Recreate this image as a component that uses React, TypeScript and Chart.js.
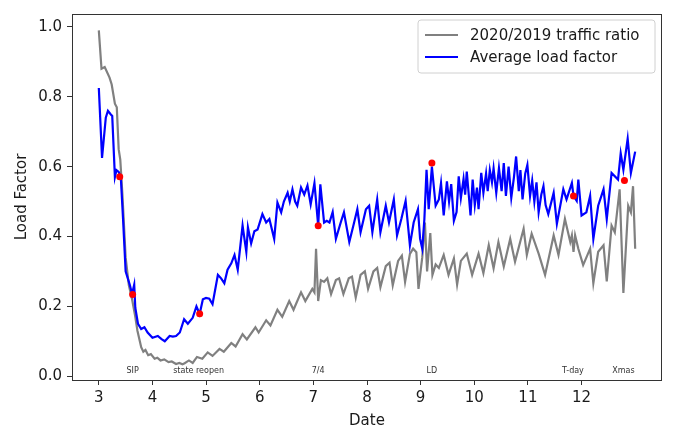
import React, { useEffect, useRef } from "react";
import { Chart, registerables } from "chart.js";

Chart.register(...registerables);

// 2020/2019 traffic ratio (x = month + fraction of month)
const ratioX = [
  3.0, 3.05, 3.11, 3.2, 3.24, 3.3, 3.335, 3.37, 3.4, 3.44, 3.5, 3.56, 3.62, 3.68, 3.72, 3.79, 3.83, 3.87, 3.92, 3.97,
  4.04, 4.09, 4.15, 4.22, 4.3, 4.36, 4.44, 4.5, 4.56, 4.6, 4.68, 4.75, 4.83, 4.93, 5.03, 5.12, 5.25, 5.33, 5.47, 5.55,
  5.68, 5.76, 5.92, 5.98, 6.12, 6.2, 6.33, 6.42, 6.55, 6.63, 6.77, 6.85, 6.98, 7.02, 7.05, 7.09,
  7.14, 7.2, 7.26, 7.33, 7.42, 7.48, 7.56, 7.66, 7.72, 7.79, 7.88, 7.96, 8.02, 8.12, 8.19, 8.25, 8.35, 8.42, 8.48,
  8.58, 8.65, 8.71, 8.8, 8.86, 8.92, 8.96, 9.03, 9.08, 9.12, 9.18, 9.22, 9.28, 9.34,
  9.43, 9.52, 9.62, 9.68, 9.75, 9.86, 9.96, 10.08, 10.17, 10.27, 10.36, 10.45,
  10.55, 10.67, 10.76, 10.92, 10.98, 11.07, 11.2, 11.32, 11.48, 11.57, 11.69, 11.79, 11.82, 11.85, 11.88,
  11.94, 12.03, 12.16, 12.22, 12.31, 12.41, 12.47, 12.56, 12.62, 12.71, 12.78, 12.87, 12.92, 12.96, 13.0,
];
const ratioY = [
  0.99, 0.88, 0.885, 0.855, 0.835, 0.78, 0.77, 0.65, 0.62, 0.52, 0.34, 0.26, 0.22, 0.17, 0.13, 0.083, 0.07, 0.075, 0.06, 0.063,
  0.05, 0.053, 0.045, 0.048, 0.04, 0.042, 0.035, 0.038, 0.034, 0.037, 0.045, 0.038, 0.055, 0.05, 0.068, 0.058, 0.078, 0.07, 0.095, 0.085,
  0.12, 0.105, 0.14, 0.125, 0.16, 0.145, 0.19, 0.17, 0.215, 0.19, 0.24, 0.215, 0.25, 0.24, 0.365, 0.215,
  0.275, 0.27, 0.28, 0.235, 0.275, 0.28, 0.235, 0.28, 0.285, 0.225, 0.29, 0.3, 0.25, 0.3, 0.31, 0.255, 0.315, 0.325, 0.26,
  0.33, 0.345, 0.27, 0.35, 0.365, 0.355, 0.25, 0.34, 0.44, 0.3, 0.41, 0.29, 0.32, 0.31,
  0.347, 0.29, 0.337, 0.262, 0.33, 0.351, 0.29, 0.351, 0.295, 0.375, 0.309, 0.384,
  0.314, 0.393, 0.328, 0.422, 0.347, 0.408, 0.351, 0.29, 0.403, 0.347, 0.45, 0.384, 0.403, 0.356, 0.403,
  0.365, 0.318, 0.365, 0.266, 0.356, 0.375, 0.271, 0.431, 0.412, 0.535, 0.238, 0.488, 0.469, 0.544, 0.365,
];

// Average load factor
const loadX = [
  3.0, 3.06, 3.13, 3.17, 3.22, 3.25, 3.3, 3.33, 3.37, 3.41, 3.45, 3.5, 3.58, 3.62, 3.66, 3.68, 3.73, 3.79, 3.85,
  3.91, 4.0, 4.1, 4.17, 4.23, 4.32, 4.38, 4.44, 4.51, 4.59, 4.66, 4.75, 4.82, 4.88, 4.94, 5.0, 5.06, 5.12,
  5.22, 5.28, 5.34, 5.4, 5.47, 5.53, 5.59, 5.68, 5.75, 5.78, 5.84, 5.9, 5.96, 6.05, 6.12, 6.18, 6.27, 6.33,
  6.4, 6.45, 6.52, 6.56, 6.61, 6.66, 6.7, 6.77, 6.83, 6.89, 6.95, 7.02, 7.09, 7.13, 7.2, 7.25, 7.3, 7.36,
  7.42, 7.51, 7.57, 7.67, 7.76, 7.82, 7.88, 7.98, 8.04, 8.1, 8.19, 8.25, 8.35, 8.41, 8.5, 8.56, 8.64, 8.72,
  8.8, 8.87, 8.95, 8.99, 9.03, 9.07, 9.11, 9.15, 9.21, 9.28,
  9.34, 9.38, 9.43, 9.49, 9.53, 9.57, 9.62, 9.67, 9.71, 9.75, 9.8, 9.83, 9.86, 9.93, 9.97, 10.01, 10.05, 10.08,
  10.13, 10.17, 10.22, 10.25, 10.29, 10.33, 10.36, 10.41, 10.46, 10.51, 10.55, 10.59, 10.64, 10.69, 10.74,
  10.78, 10.83, 10.86, 10.9, 10.95, 10.99, 11.04, 11.08, 11.12, 11.16, 11.2, 11.25, 11.29, 11.33,
  11.38, 11.48, 11.54, 11.66, 11.72, 11.82, 11.85, 11.91, 11.94, 12.0,
  12.09, 12.16, 12.22, 12.31, 12.41, 12.47, 12.56, 12.68, 12.73, 12.78, 12.86, 12.92, 13.0,
];
const loadY = [
  0.825, 0.625, 0.74, 0.76, 0.75, 0.745, 0.57, 0.59, 0.585, 0.57, 0.455, 0.3, 0.26, 0.235, 0.262, 0.196, 0.15, 0.135, 0.14,
  0.125, 0.11, 0.115, 0.106, 0.1, 0.115, 0.113, 0.115, 0.125, 0.163, 0.15, 0.167, 0.2, 0.178, 0.22, 0.224, 0.222, 0.206,
  0.29, 0.28, 0.266, 0.305, 0.323, 0.347, 0.305, 0.431, 0.356, 0.426, 0.38, 0.415, 0.42, 0.464, 0.44, 0.45, 0.393, 0.497,
  0.469, 0.5, 0.525, 0.5, 0.535, 0.5, 0.488, 0.54, 0.52, 0.546, 0.492, 0.553, 0.431, 0.549, 0.44, 0.445, 0.44, 0.47,
  0.393, 0.44, 0.469, 0.384, 0.44, 0.478, 0.412, 0.478, 0.488, 0.412, 0.506, 0.412, 0.488, 0.44, 0.506, 0.403, 0.45, 0.502,
  0.375, 0.44, 0.478, 0.393, 0.365, 0.45, 0.591, 0.478, 0.6, 0.488,
  0.506, 0.553, 0.46, 0.558, 0.5, 0.55, 0.445, 0.47, 0.572, 0.51, 0.565, 0.52, 0.586, 0.46, 0.563, 0.49, 0.54, 0.478,
  0.582, 0.525, 0.58, 0.53, 0.59, 0.555, 0.595, 0.525, 0.596, 0.53, 0.61, 0.516, 0.6, 0.511, 0.57,
  0.629, 0.53, 0.59, 0.506, 0.58, 0.605, 0.516, 0.56, 0.5, 0.555, 0.469, 0.52, 0.544, 0.49,
  0.464, 0.525, 0.436, 0.535, 0.506, 0.553, 0.516, 0.502, 0.563, 0.46,
  0.469, 0.516, 0.393, 0.488, 0.535, 0.45, 0.582, 0.563, 0.638, 0.591, 0.68, 0.582, 0.643,
];

// Marked events
const eventX = [3.39, 3.63, 4.88, 7.09, 9.21, 11.85, 12.8];
const eventY = [0.571, 0.234, 0.179, 0.431, 0.61, 0.516, 0.56];
const eventLabels = ["SIP", "state reopen", "7/4", "LD", "T-day", "Xmas"];
const eventLabelX = [3.63, 4.86, 7.09, 9.21, 11.84, 12.78];
const eventLabelY = 0.014;

const xTicks = [3, 4, 5, 6, 7, 8, 9, 10, 11, 12];
const yTicks = [0, 0.2, 0.4, 0.6, 0.8, 1.0];
const seriesNames = ["2020/2019 traffic ratio", "Average load factor"];
const seriesColors = ["#808080", "#0000ff"];

const FONT = "'DejaVu Sans', sans-serif";
const TEXT = "#1a1a1a";
const AXIS = "#333333";

const decorPlugin = {
  id: "decor",
  afterDatasetsDraw(chart: any) {
    const { ctx, chartArea, scales } = chart;
    const xs = scales.x;
    const ys = scales.y;
    ctx.save();
    // event labels
    ctx.fillStyle = "#333";
    ctx.font = `8px ${FONT}`;
    ctx.textAlign = "center";
    ctx.textBaseline = "middle";
    eventLabels.forEach((t, i) => {
      ctx.fillText(t, xs.getPixelForValue(eventLabelX[i]), ys.getPixelForValue(eventLabelY));
    });
    // frame
    ctx.strokeStyle = AXIS;
    ctx.lineWidth = 1;
    ctx.strokeRect(
      Math.round(chartArea.left) + 0.5,
      Math.round(chartArea.top) + 0.5,
      Math.round(chartArea.right - chartArea.left) - 1,
      Math.round(chartArea.bottom - chartArea.top)
    );
    // legend
    const bx = chartArea.right - 244;
    const by = chartArea.top + 6;
    const bw = 237;
    const bh = 53;
    const r = 3;
    ctx.beginPath();
    ctx.moveTo(bx + r, by);
    ctx.lineTo(bx + bw - r, by);
    ctx.quadraticCurveTo(bx + bw, by, bx + bw, by + r);
    ctx.lineTo(bx + bw, by + bh - r);
    ctx.quadraticCurveTo(bx + bw, by + bh, bx + bw - r, by + bh);
    ctx.lineTo(bx + r, by + bh);
    ctx.quadraticCurveTo(bx, by + bh, bx, by + bh - r);
    ctx.lineTo(bx, by + r);
    ctx.quadraticCurveTo(bx, by, bx + r, by);
    ctx.closePath();
    ctx.fillStyle = "rgba(255,255,255,0.8)";
    ctx.fill();
    ctx.strokeStyle = "#d0d0d0";
    ctx.stroke();
    ctx.font = `15px ${FONT}`;
    ctx.textAlign = "left";
    ctx.textBaseline = "middle";
    seriesNames.forEach((name, i) => {
      const yy = by + 15 + i * 22;
      ctx.strokeStyle = seriesColors[i];
      ctx.lineWidth = 2.2;
      ctx.beginPath();
      ctx.moveTo(bx + 7, yy);
      ctx.lineTo(bx + 40, yy);
      ctx.stroke();
      ctx.fillStyle = TEXT;
      ctx.fillText(name, bx + 52, yy + 1);
    });
    ctx.restore();
  },
};

export default function App() {
  const ref = useRef<HTMLCanvasElement | null>(null);
  useEffect(() => {
    if (!ref.current) return;
    const font = { family: FONT, size: 15 };
    const chart = new Chart(ref.current, {
      type: "line",
      data: {
        datasets: [
          {
            label: seriesNames[0],
            data: ratioX.map((x, i) => ({ x, y: ratioY[i] })),
            borderColor: seriesColors[0],
            borderWidth: 2.2,
            pointRadius: 0,
            tension: 0,
            order: 2,
          },
          {
            label: seriesNames[1],
            data: loadX.map((x, i) => ({ x, y: loadY[i] })),
            borderColor: seriesColors[1],
            borderWidth: 2.2,
            pointRadius: 0,
            tension: 0,
            order: 1,
          },
          {
            label: "events",
            data: eventX.map((x, i) => ({ x, y: eventY[i] })),
            showLine: false,
            pointRadius: 3.5,
            pointBackgroundColor: "#ff0000",
            pointBorderWidth: 0,
            borderColor: "#ff0000",
            order: 0,
          } as any,
        ],
      },
      options: {
        animation: false,
        responsive: false,
        devicePixelRatio: 1,
        layout: { padding: { top: 9, right: 14, left: 0, bottom: 0 } },
        plugins: { legend: { display: false }, tooltip: { enabled: false } },
        scales: {
          x: {
            type: "linear",
            min: 2.5,
            max: 13.5,
            afterBuildTicks: (s: any) => {
              s.ticks = xTicks.map((v) => ({ value: v }));
            },
            afterFit: (s: any) => {
              s.height = 52;
            },
            ticks: {
              font,
              color: TEXT,
              padding: 4,
              maxRotation: 0,
              autoSkip: false,
              callback: (v: any) => String(v),
            },
            grid: { drawOnChartArea: false, drawTicks: true, tickLength: 5, color: AXIS },
            border: { display: false },
            title: { display: true, text: "Date", font, color: TEXT, padding: { top: 0, bottom: 2 } },
          },
          y: {
            type: "linear",
            min: -0.011,
            max: 1.037,
            afterBuildTicks: (s: any) => {
              s.ticks = yTicks.map((v) => ({ value: v }));
            },
            afterFit: (s: any) => {
              s.width = 72;
            },
            ticks: {
              font,
              color: TEXT,
              padding: 5,
              autoSkip: false,
              callback: (v: any) => Number(v).toFixed(1),
            },
            grid: { drawOnChartArea: false, drawTicks: true, tickLength: 5, color: AXIS },
            border: { display: false },
            title: { display: true, text: "Load Factor", font, color: TEXT, padding: { top: 13, bottom: 0 } },
          },
        },
      },
      plugins: [decorPlugin],
    });
    return () => chart.destroy();
  }, []);
  return (
    <div style={{ position: "absolute", left: 0, top: 0, width: 676, height: 432, background: "#fff" }}>
      <canvas ref={ref} width={676} height={432} style={{ width: 676, height: 432 }} />
    </div>
  );
}
